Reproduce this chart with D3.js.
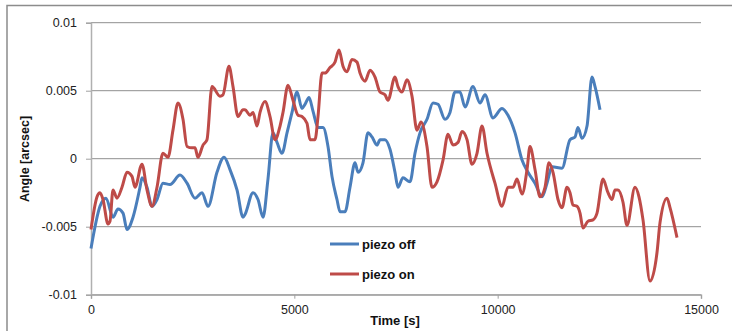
<!DOCTYPE html>
<html>
<head>
<meta charset="utf-8">
<script src="https://cdn.jsdelivr.net/npm/d3@7"></script>
<style>
  body { margin: 0; background: #fff; }
  svg { display: block; font-family: "Liberation Sans", Arial, sans-serif; }
</style>
</head>
<body>
<svg id="chart" width="732" height="331"></svg>
<script>
// time [s] and angle [arcsec]
const offTime = [0, 221, 369, 541, 664, 787, 885, 1033, 1205, 1254, 1377, 1500, 1623, 1770, 1943, 2189, 2361, 2557, 2730, 2877, 3098, 3271, 3418, 3590, 3738, 3787, 3984, 4107, 4230, 4352, 4475, 4574, 4697, 4820, 4943, 5066, 5188, 5262, 5361, 5459, 5582, 5705, 5828, 5926, 6049, 6123, 6246, 6369, 6492, 6566, 6688, 6811, 6910, 7033, 7107, 7229, 7352, 7475, 7549, 7672, 7844, 7967, 8090, 8262, 8410, 8533, 8705, 8828, 8951, 9074, 9197, 9393, 9566, 9689, 9885, 10107, 10254, 10427, 10599, 10746, 10918, 11090, 11213, 11336, 11582, 11779, 11902, 11975, 12074, 12197, 12320, 12394, 12517];
const offAngle = [-0.0066, -0.0035, -0.0029, -0.0043, -0.0037, -0.0040, -0.0052, -0.0043, -0.0021, -0.0014, -0.0021, -0.0035, -0.0030, -0.0018, -0.0019, -0.0012, -0.0018, -0.0029, -0.0025, -0.0035, -0.0010, 0.0001, -0.0008, -0.0023, -0.0043, -0.0041, -0.0025, -0.0030, -0.0043, -0.0015, 0.0019, 0.0012, 0.0004, 0.0019, 0.0034, 0.0049, 0.0037, 0.0040, 0.0045, 0.0035, 0.0023, 0.0023, 0.0009, -0.0013, -0.0030, -0.0039, -0.0039, -0.0021, -0.0003, -0.0010, -0.0003, 0.0019, 0.0016, 0.0010, 0.0014, 0.0014, 0.0007, -0.0010, -0.0021, -0.0014, -0.0017, 0.0004, 0.0019, 0.0029, 0.0041, 0.0040, 0.0029, 0.0034, 0.0049, 0.0049, 0.0038, 0.0053, 0.0041, 0.0047, 0.0030, 0.0037, 0.0032, 0.0019, -0.0001, -0.0010, -0.0018, -0.0028, -0.0018, -0.0006, -0.0007, 0.0014, 0.0016, 0.0023, 0.0015, 0.0024, 0.0060, 0.0053, 0.0036];

const onTime = [0, 148, 221, 295, 418, 467, 541, 639, 762, 885, 1008, 1082, 1254, 1377, 1500, 1623, 1770, 1893, 2016, 2139, 2262, 2361, 2484, 2557, 2631, 2754, 2852, 2975, 3172, 3246, 3393, 3492, 3615, 3738, 3787, 3910, 3984, 4082, 4156, 4279, 4402, 4525, 4648, 4721, 4844, 4967, 5090, 5188, 5311, 5385, 5508, 5582, 5680, 5754, 5877, 6000, 6098, 6197, 6295, 6418, 6541, 6615, 6738, 6861, 6984, 7107, 7229, 7303, 7475, 7549, 7648, 7770, 7893, 8016, 8115, 8262, 8385, 8508, 8656, 8779, 8902, 9025, 9123, 9246, 9369, 9492, 9615, 9738, 9934, 10107, 10254, 10377, 10476, 10599, 10722, 10795, 10918, 11041, 11164, 11262, 11361, 11484, 11582, 11705, 11779, 11852, 11951, 12025, 12098, 12221, 12344, 12443, 12590, 12713, 12812, 12885, 12959, 13082, 13180, 13377, 13475, 13574, 13746, 13918, 13992, 14164, 14238, 14410];
const onAngle = [-0.0052, -0.0028, -0.0025, -0.0030, -0.0048, -0.0046, -0.0023, -0.0029, -0.0021, -0.0010, -0.0013, -0.0021, -0.0004, -0.0023, -0.0035, -0.0021, 0.0004, 0.0001, 0.0021, 0.0041, 0.0029, 0.0009, 0.0008, 0.0008, 0.0001, 0.0010, 0.0014, 0.0053, 0.0046, 0.0047, 0.0068, 0.0053, 0.0031, 0.0036, 0.0036, 0.0032, 0.0034, 0.0024, 0.0034, 0.0042, 0.0031, 0.0014, 0.0024, 0.0034, 0.0054, 0.0043, 0.0032, 0.0031, 0.0026, 0.0014, 0.0014, 0.0031, 0.0063, 0.0063, 0.0067, 0.0071, 0.0080, 0.0068, 0.0064, 0.0073, 0.0071, 0.0063, 0.0057, 0.0065, 0.0060, 0.0049, 0.0047, 0.0043, 0.0060, 0.0053, 0.0049, 0.0058, 0.0046, 0.0021, 0.0027, 0.0009, -0.0021, -0.0017, -0.0001, 0.0018, 0.0010, 0.0012, 0.0020, 0.0014, -0.0004, 0.0004, 0.0024, 0.0004, -0.0018, -0.0035, -0.0021, -0.0021, -0.0015, -0.0026, -0.0008, 0.0009, -0.0008, -0.0028, -0.0021, -0.0003, -0.0010, -0.0030, -0.0036, -0.0021, -0.0025, -0.0034, -0.0035, -0.0040, -0.0051, -0.0046, -0.0045, -0.0040, -0.0015, -0.0025, -0.0030, -0.0023, -0.0023, -0.0032, -0.0049, -0.0021, -0.0028, -0.0045, -0.0090, -0.0069, -0.0047, -0.0029, -0.0036, -0.0058];

const xTicks = [0, 5000, 10000, 15000];
const yTicks = [-0.01, -0.005, 0, 0.005, 0.01];
const yTickLabels = ["-0.01", "-0.005", "0", "0.005", "0.01"];
const seriesNames = ["piezo off", "piezo on"];
const seriesColors = ["#4a7ebb", "#be4b48"];

const svg = d3.select("#chart");
const margin = { top: 22.7, left: 91, right: 31, bottom: 36.3 };
const width = 732 - margin.left - margin.right,
  height = 331 - margin.top - margin.bottom;

// outer frame (only the top and left edges fall inside the picture)
svg.append("path")
  .attr("d", "M7,340 L7,5.5 L740,5.5")
  .attr("fill", "none")
  .attr("stroke", "#8c8c8c")
  .attr("stroke-width", 1.5);

const g = svg.append("g")
  .attr("transform", "translate(" + margin.left + "," + margin.top + ")");

const x = d3.scaleLinear().domain([0, 15000]).range([0, width]);
const y = d3.scaleLinear().domain([-0.01, 0.01]).range([height, 0]);

// gridlines
g.selectAll(".grid")
  .data(yTicks)
  .enter().append("line")
  .attr("class", "grid")
  .attr("x1", 0).attr("x2", width)
  .attr("y1", d => y(d)).attr("y2", d => y(d))
  .attr("stroke", "#8f8f8f")
  .attr("stroke-width", 1);

const yAxis = g.append("g")
  .call(d3.axisLeft(y).tickValues(yTicks).tickSize(5)
    .tickFormat((d, i) => yTickLabels[i]));
const xAxis = g.append("g")
  .attr("transform", "translate(0," + height + ")")
  .call(d3.axisBottom(x).tickValues(xTicks).tickSize(4).tickFormat(d3.format("d")));

[yAxis, xAxis].forEach(a => {
  a.select(".domain").attr("stroke", "#b0b0b0").attr("stroke-width", 1.5);
  a.selectAll(".tick line").attr("stroke", "#a0a0a0");
  a.selectAll("text").attr("fill", "#222").style("font-size", "12.5px");
});
yAxis.selectAll("text").attr("x", -14);
xAxis.selectAll("text").attr("y", 10);

const line = d3.line()
  .x(d => x(d[0]))
  .y(d => y(d[1]))
  .curve(d3.curveMonotoneX);

const series = [
  offTime.map((t, i) => [t, offAngle[i]]),
  onTime.map((t, i) => [t, onAngle[i]])
];

g.selectAll(".series")
  .data(series)
  .enter().append("path")
  .attr("class", "series")
  .attr("d", line)
  .attr("fill", "none")
  .attr("stroke", (d, i) => seriesColors[i])
  .attr("stroke-width", 3)
  .attr("stroke-linejoin", "round");

// legend
const legend = svg.append("g").attr("transform", "translate(330,244)");
seriesNames.forEach((name, i) => {
  legend.append("line")
    .attr("x1", 0).attr("x2", 29)
    .attr("y1", i * 30).attr("y2", i * 30)
    .attr("stroke", seriesColors[i])
    .attr("stroke-width", 3);
  legend.append("text")
    .attr("x", 32).attr("y", i * 30)
    .attr("dy", "0.35em")
    .attr("font-weight", "bold")
    .style("font-size", "13px")
    .attr("fill", "#111")
    .text(name);
});

// axis titles
svg.append("text")
  .attr("transform", "translate(25,159) rotate(-90)")
  .attr("text-anchor", "middle")
  .attr("dy", "0.35em")
  .attr("font-weight", "bold")
  .style("font-size", "12.5px")
  .attr("fill", "#111")
  .text("Angle [arcsec]");

svg.append("text")
  .attr("x", 395).attr("y", 320)
  .attr("text-anchor", "middle")
  .attr("dy", "0.35em")
  .attr("font-weight", "bold")
  .style("font-size", "13px")
  .attr("fill", "#111")
  .text("Time [s]");
</script>
</body>
</html>
